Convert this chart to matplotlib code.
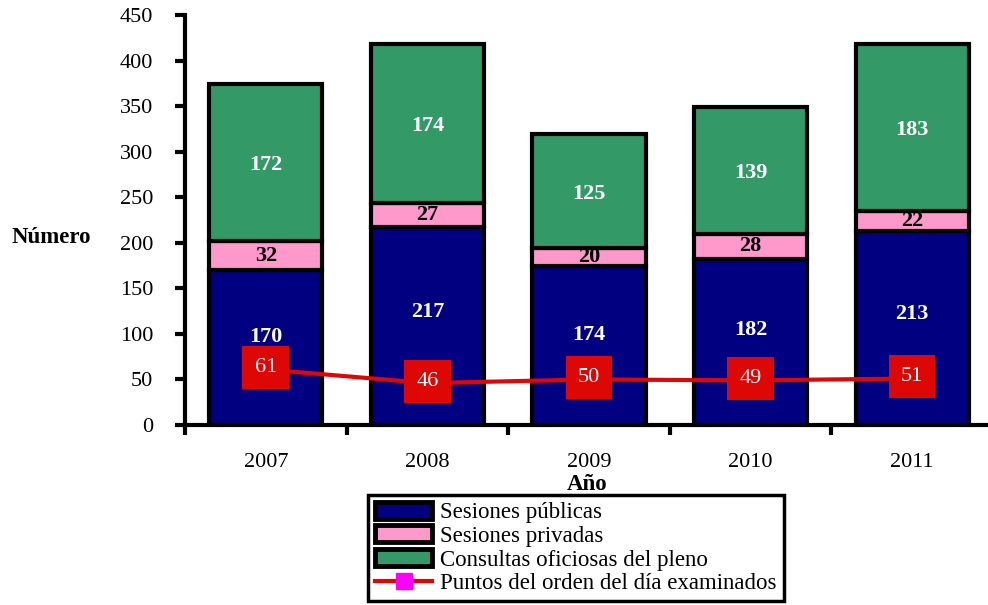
import numpy as np
import matplotlib.pyplot as plt
from matplotlib.patches import Patch
from matplotlib.lines import Line2D

plt.rcParams["font.family"] = ["Liberation Serif", "DejaVu Serif"]

anios = ["2007", "2008", "2009", "2010", "2011"]
publicas = [170, 217, 174, 182, 213]
privadas = [32, 27, 20, 28, 22]
consultas = [172, 174, 125, 139, 183]
puntos = [61, 46, 50, 49, 51]

c_pub = "#000080"
c_priv = "#FF99CC"
c_cons = "#339966"
c_rojo = "#DD0806"

fig = plt.figure(figsize=(9.88, 6.05), dpi=100)
ax = fig.add_axes([0.1872, 0.2975, 0.8178, 0.6777])

x = np.arange(len(anios))
w = 0.70
pub = np.array(publicas)
priv = np.array(privadas)
cons = np.array(consultas)

ax.bar(x, pub, w, color=c_pub, edgecolor="black", linewidth=3, zorder=2)
ax.bar(x, priv, w, bottom=pub, color=c_priv, edgecolor="black", linewidth=3, zorder=2)
ax.bar(x, cons, w, bottom=pub + priv, color=c_cons, edgecolor="black", linewidth=3, zorder=2)

for i in range(len(x)):
    ax.text(x[i], pub[i] * 0.57, str(pub[i]), ha="center", va="center",
            color="white", fontsize=16, fontweight="bold", zorder=4)
    ax.text(x[i], pub[i] + priv[i] / 2, str(priv[i]), ha="center", va="center",
            color="black", fontsize=16, fontweight="bold", zorder=4)
    ax.text(x[i], pub[i] + priv[i] + cons[i] / 2 - 3, str(cons[i]), ha="center", va="center",
            color="white", fontsize=16, fontweight="bold", zorder=4)

ax.plot(x, puntos, color=c_rojo, linewidth=3, zorder=3)
for i in range(len(x)):
    ax.text(x[i], puntos[i] + 2, str(puntos[i]), ha="center", va="center", color="white",
            fontsize=16, zorder=5,
            bbox=dict(boxstyle="square,pad=0.55", facecolor=c_rojo, edgecolor="none"))

ax.set_xlim(-0.5, len(x) - 0.5)
ax.set_ylim(0, 450)
ax.set_yticks(np.arange(0, 451, 50))
ax.set_xticks(x)
ax.set_xticklabels(anios, fontsize=16)
ax.tick_params(axis="x", length=0, pad=20)
ax.set_xticks(np.arange(-0.5, len(x) + 0.5, 1), minor=True)
ax.tick_params(axis="x", which="minor", length=7, width=3, direction="out")
ax.tick_params(axis="y", labelsize=16, length=7, width=3, direction="out", pad=16)

for s in ["top", "right"]:
    ax.spines[s].set_visible(False)
ax.spines["left"].set_linewidth(3)
ax.spines["bottom"].set_linewidth(3)

fig.text(0.594, 0.200, "Año", ha="center", va="center", fontsize=16.5, fontweight="bold")
fig.text(0.052, 0.607, "Número", ha="center", va="center", fontsize=16.5, fontweight="bold")

handles = [
    Patch(facecolor=c_pub, edgecolor="black", linewidth=3.5, label="Sesiones públicas"),
    Patch(facecolor=c_priv, edgecolor="black", linewidth=3.5, label="Sesiones privadas"),
    Patch(facecolor=c_cons, edgecolor="black", linewidth=3.5, label="Consultas oficiosas del pleno"),
    Line2D([0], [0], color=c_rojo, linewidth=3, marker="s", markersize=12,
           markerfacecolor="#FF00FF", markeredgecolor="#FF00FF",
           label="Puntos del orden del día examinados"),
]
leg = fig.legend(handles=handles, loc="upper left", bbox_to_anchor=(0.3725, 0.182),
                 fontsize=16.5, frameon=True, fancybox=False, framealpha=1,
                 borderpad=0.3, labelspacing=0.1, handlelength=2.5, handleheight=0.75,
                 handletextpad=0.35, borderaxespad=0)
leg.get_frame().set_edgecolor("black")
leg.get_frame().set_linewidth(2.5)

fig.savefig("out.png", dpi=100)
